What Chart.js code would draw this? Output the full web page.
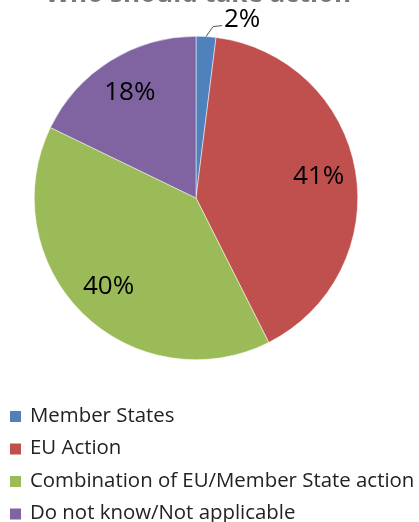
<!DOCTYPE html>
<html>
<head>
<meta charset="utf-8">
<script src="https://cdn.jsdelivr.net/npm/chart.js@4.4.1/dist/chart.umd.min.js"></script>
<style>
  html, body { margin: 0; padding: 0; background: #fff; }
  #wrap { width: 419px; height: 522px; }
</style>
</head>
<body>
<div id="wrap"><canvas id="myChart" width="419" height="522"></canvas></div>
<script>
/* データ */
let titleText = 'Who should take action';
let labels = ['Member States', 'EU Action', 'Combination of EU/Member State action', 'Do not know/Not applicable'];
let values = [2, 41, 40, 18];
let colors = ['#4F81BD', '#C0504D', '#9BBB59', '#8064A2'];

let fontName = '"Open Sans", "Noto Sans", sans-serif';

/* タイトル（上が切れている） */
let titlePlugin = {
  id: 'cutTitle',
  afterDraw(chart) {
    let c = chart.ctx;
    c.save();
    c.font = 'bold 26px ' + fontName;
    c.fillStyle = '#777';
    c.textAlign = 'center';
    c.textBaseline = 'alphabetic';
    c.fillText(titleText, 198, 2);
    c.restore();
  }
};

/* パーセント表示 */
let labelPlugin = {
  id: 'pctLabels',
  afterDatasetsDraw(chart) {
    let c = chart.ctx;
    let arcs = chart.getDatasetMeta(0).data;
    c.save();
    c.font = '26px ' + fontName;
    c.fillStyle = '#000';
    c.textAlign = 'center';
    c.textBaseline = 'middle';
    arcs.forEach(function (arc, i) {
      let mid = (arc.startAngle + arc.endAngle) / 2;
      let text = values[i] + '%';
      if (values[i] < 5) {
        // 小さいスライスは外側に引き出し線つき
        let x0 = arc.x + Math.cos(mid) * arc.outerRadius;
        let y0 = arc.y + Math.sin(mid) * arc.outerRadius;
        c.strokeStyle = '#555';
        c.lineWidth = 1;
        c.beginPath();
        c.moveTo(x0, y0);
        c.lineTo(x0 + 7, y0 - 10);
        c.lineTo(x0 + 16, y0 - 11);
        c.stroke();
        c.fillText(text, x0 + 36, y0 - 17);
      } else {
        let r = arc.outerRadius * 0.77;
        c.fillText(text, arc.x + Math.cos(mid) * r, arc.y + Math.sin(mid) * r);
      }
    });
    c.restore();
  }
};

/* 凡例（縦並び、左寄せ） */
let legendPlugin = {
  id: 'sideLegend',
  afterDraw(chart) {
    let c = chart.ctx;
    c.save();
    c.font = '20.4px ' + fontName;
    c.textBaseline = 'middle';
    labels.forEach(function (lab, i) {
      let y = 416 + i * 32.5;
      c.fillStyle = colors[i];
      c.fillRect(10, y - 5, 11, 11);
      c.fillStyle = '#222';
      c.fillText(lab, 30, y);
    });
    c.restore();
  }
};

let ctx = document.getElementById('myChart').getContext('2d');
let myPie = new Chart(ctx, {
  type: 'pie',
  data: {
    labels: labels,
    datasets: [{
      data: values,
      backgroundColor: colors,
      borderColor: '#fff',
      borderWidth: 0.5
    }]
  },
  options: {
    responsive: false,
    animation: false,
    layout: {
      padding: { top: 36, bottom: 162, left: 33, right: 60 }
    },
    plugins: {
      legend: { display: false },
      tooltip: { enabled: false },
      title: { display: false }
    }
  },
  plugins: [titlePlugin, labelPlugin, legendPlugin]
});
</script>
</body>
</html>
